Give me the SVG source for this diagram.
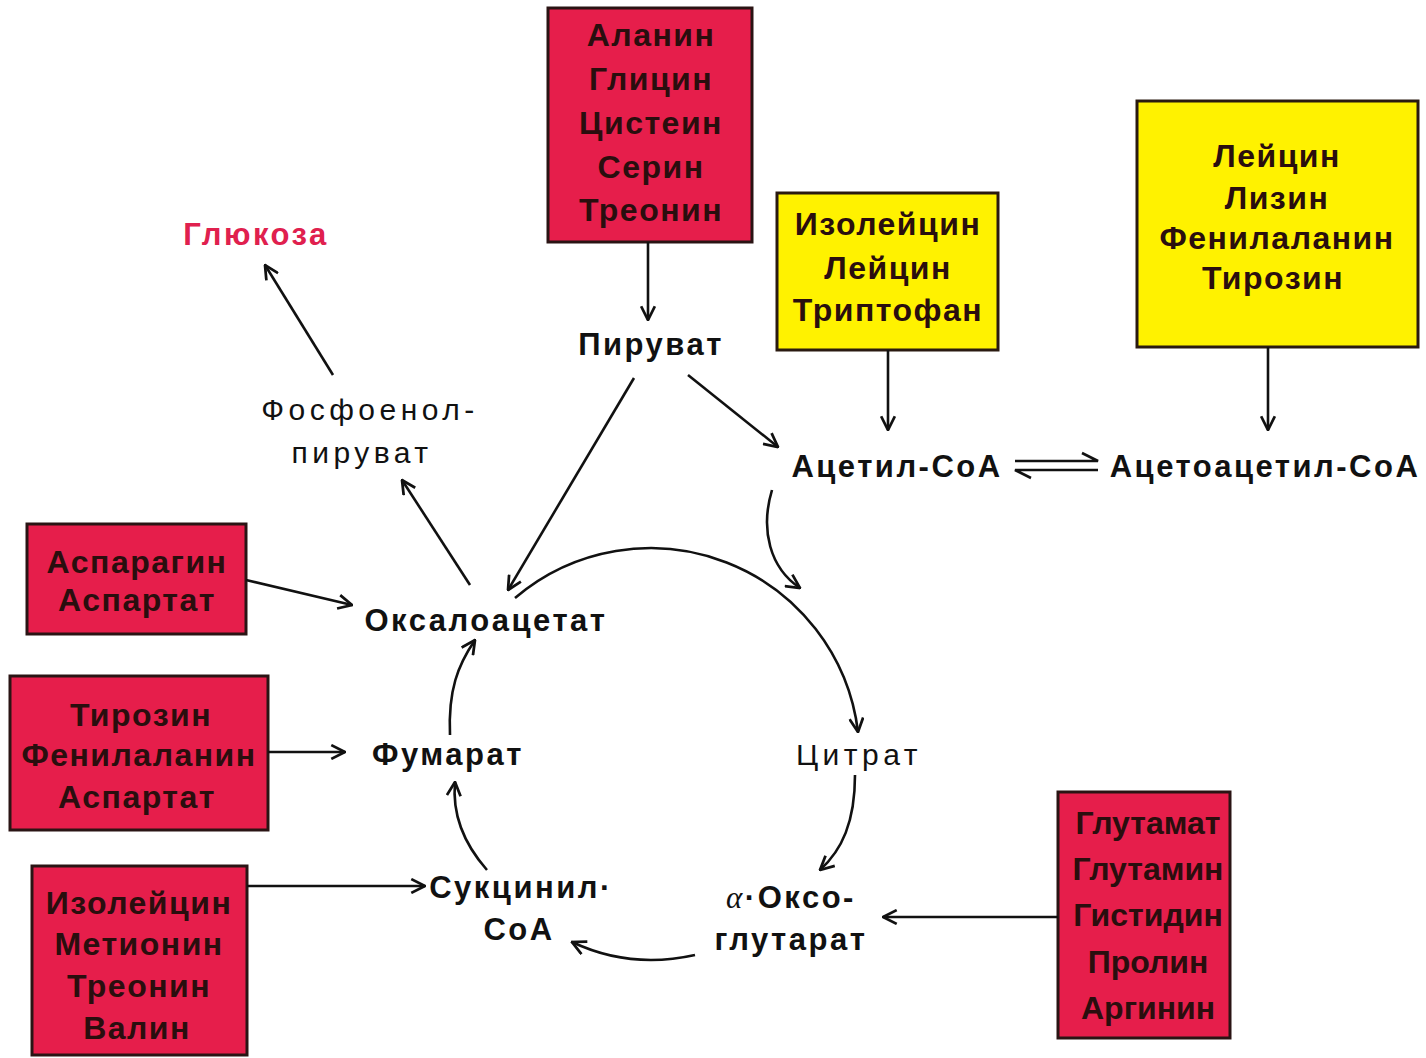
<svg xmlns="http://www.w3.org/2000/svg" width="1426" height="1058" viewBox="0 0 1426 1058">
<defs>
<marker id="ah" viewBox="0 0 14 14" refX="13" refY="7" markerWidth="16" markerHeight="16" markerUnits="userSpaceOnUse" orient="auto">
<path d="M1,1 L13,7 L1,13" fill="none" stroke="#111" stroke-width="2.4"/>
</marker>
</defs>
<style>
.red{fill:#e61e4b;stroke:#2a1414;stroke-width:3}
.yel{fill:#fff200;stroke:#2a1a10;stroke-width:3}
.bt{font-family:"Liberation Sans",Arial,sans-serif;font-weight:bold;font-size:32px;letter-spacing:1.5px;fill:#2a0e0e;text-anchor:middle}
.tight{letter-spacing:0px}
.lb{font-family:"Liberation Sans",Arial,sans-serif;font-weight:bold;font-size:31px;letter-spacing:2.5px;fill:#111;text-anchor:middle}
.ln{font-family:"Liberation Sans",Arial,sans-serif;font-size:30px;letter-spacing:4.5px;fill:#111;text-anchor:middle}
.c{fill:none;stroke:#111;stroke-width:2.6}
.ca{fill:none;stroke:#111;stroke-width:2.6;marker-end:url(#ah)}
</style>
<rect width="1426" height="1058" fill="#fff"/>

<g id="box-pyruvate-aa">
<rect class="red" x="548" y="8" width="204" height="234"/>
<text class="bt" x="651" y="46">Аланин</text>
<text class="bt" x="651" y="90">Глицин</text>
<text class="bt" x="651" y="134">Цистеин</text>
<text class="bt" x="651" y="178">Серин</text>
<text class="bt" x="651" y="221">Треонин</text>
</g>
<g id="box-acetyl-aa">
<rect class="yel" x="777" y="193" width="221" height="157"/>
<text class="bt" x="888" y="235">Изолейцин</text>
<text class="bt" x="888" y="279">Лейцин</text>
<text class="bt" x="888" y="321">Триптофан</text>
</g>
<g id="box-acetoacetyl-aa">
<rect class="yel" x="1137" y="101" width="281" height="246"/>
<text class="bt" x="1277" y="167">Лейцин</text>
<text class="bt" x="1277" y="209">Лизин</text>
<text class="bt" x="1277" y="249">Фенилаланин</text>
<text class="bt" x="1273" y="289">Тирозин</text>
</g>
<g id="box-oxaloacetate-aa">
<rect class="red" x="27" y="524" width="219" height="110"/>
<text class="bt" x="137" y="573">Аспарагин</text>
<text class="bt" x="137" y="611">Аспартат</text>
</g>
<g id="box-fumarate-aa">
<rect class="red" x="10" y="676" width="258" height="154"/>
<text class="bt" x="141" y="726">Тирозин</text>
<text class="bt" x="139" y="766">Фенилаланин</text>
<text class="bt" x="137" y="808">Аспартат</text>
</g>
<g id="box-succinyl-aa">
<rect class="red" x="32" y="866" width="215" height="189"/>
<text class="bt" x="139" y="914">Изолейцин</text>
<text class="bt" x="139" y="955">Метионин</text>
<text class="bt" x="139" y="997">Треонин</text>
<text class="bt" x="137" y="1039">Валин</text>
</g>
<g id="box-ketoglutarate-aa">
<rect class="red" x="1058" y="792" width="172" height="246"/>
<text class="bt tight" x="1148" y="834">Глутамат</text>
<text class="bt tight" x="1148" y="880">Глутамин</text>
<text class="bt tight" x="1148" y="926">Гистидин</text>
<text class="bt tight" x="1148" y="973">Пролин</text>
<text class="bt tight" x="1148" y="1019">Аргинин</text>
</g>

<g id="glucose"><text class="lb" x="256" y="245" style="fill:#e0204e">Глюкоза</text></g>
<g id="pep"><text class="ln" x="370" y="420">Фосфоенол-</text><text class="ln" x="362" y="463">пируват</text></g>
<g id="pyruvate"><text class="lb" x="651" y="355">Пируват</text></g>
<g id="acetyl-coa"><text class="lb" x="897" y="477">Ацетил-СоА</text></g>
<g id="acetoacetyl-coa"><text class="lb" x="1265" y="477">Ацетоацетил-СоА</text></g>
<g id="oxaloacetate"><text class="lb" x="486" y="631">Оксалоацетат</text></g>
<g id="fumarate"><text class="lb" x="448" y="765">Фумарат</text></g>
<g id="citrate"><text class="ln" x="859" y="765">Цитрат</text></g>
<g id="succinyl-coa"><text class="lb" x="521" y="898">Сукцинил·</text><text class="lb" x="519" y="940">СоА</text></g>
<g id="ketoglutarate"><text class="lb" x="791" y="908"><tspan font-family="Liberation Serif" font-style="italic" font-weight="normal">α</tspan>·Оксо-</text><text class="lb" x="791" y="950">глутарат</text></g>

<g id="connectors">
<path class="ca" d="M648,242 L648,320"/>
<path class="ca" d="M888,350 L888,430"/>
<path class="ca" d="M1268,347 L1268,430"/>
<path class="ca" d="M688,375 L778,447"/>
<path class="ca" d="M634,378 L508,590"/>
<path class="ca" d="M333,375 L265,265"/>
<path class="ca" d="M470,585 L402,480"/>
<path class="ca" d="M246,580 L352,605"/>
<path class="ca" d="M268,752 L345,752"/>
<path class="ca" d="M247,886 L425,886"/>
<path class="ca" d="M1058,917 L883,917"/>
<path class="ca" d="M772,490 C760,530 770,568 800,588"/>
<path class="ca" d="M515,598 A209,209 0 0 1 858,732"/>
<path class="ca" d="M855,775 C855,822 842,850 820,870"/>
<path class="ca" d="M695,955 C650,965 610,960 572,942"/>
<path class="ca" d="M487,870 C465,845 452,815 455,782"/>
<path class="ca" d="M450,735 C448,690 458,665 475,640"/>
<path class="c" d="M1015,461 L1098,461 L1082,453"/>
<path class="c" d="M1098,470 L1015,470 L1031,478"/>
</g>
</svg>
